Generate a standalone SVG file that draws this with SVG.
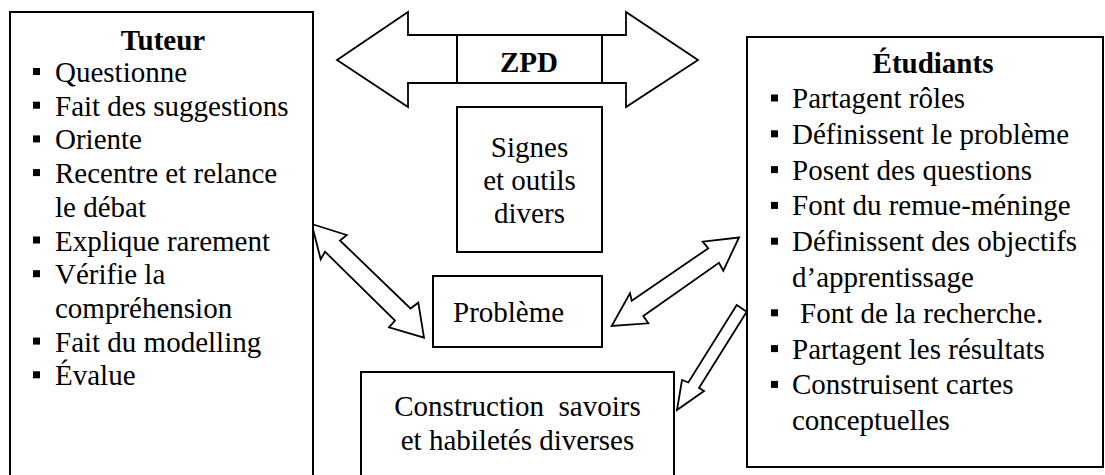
<svg xmlns="http://www.w3.org/2000/svg" width="1105" height="475" viewBox="0 0 1105 475">
<defs>
<style>
.box{fill:#fff;stroke:#000;stroke-width:2}
.arr{fill:#fff;stroke:#000;stroke-width:1.8;stroke-linejoin:miter}
</style>
</defs>
<rect width="1105" height="475" fill="#fff"/>
<g id="connectors">
<polygon class="arr" points="337,60 408,12 408,35 626,35 626,12 698,60 626,107 626,83 408,83 408,107"/>
<polygon class="arr" points="311.7,224 346.7,235 340,240.5 410.5,308.5 418.3,302.7 424,337.7 389,327.3 395,320.5 325,251.7 320.7,259.3"/>
<polygon class="arr" points="739,237.5 702.7,241.7 708.3,248.3 631.7,300.7 630,293.3 611.7,326 648.3,323.3 643.3,316 719,262.7 723.3,270.7"/>
<polygon class="arr" points="736.7,305 746.7,311.7 699,388 704,391 677,410 682,380 688.3,382.5"/>
</g>
<g id="zpd">
<line x1="457" y1="35" x2="457" y2="83" stroke="#000" stroke-width="2"/>
<line x1="602" y1="35" x2="602" y2="83" stroke="#000" stroke-width="2"/>
<text x="529" y="72" font-family="Liberation Serif" font-size="29" font-weight="bold" text-anchor="middle">ZPD</text>
</g>
<g id="tuteur" font-family="Times New Roman, serif" font-size="29">
<rect class="box" x="10" y="12" width="303" height="475"/>
<text x="163" y="50" font-weight="bold" text-anchor="middle">Tuteur</text>
<g fill="#000">
<rect x="33" y="68" width="7" height="7"/>
<rect x="33" y="101.7" width="7" height="7"/>
<rect x="33" y="135.4" width="7" height="7"/>
<rect x="33" y="169.1" width="7" height="7"/>
<rect x="33" y="236.5" width="7" height="7"/>
<rect x="33" y="270.2" width="7" height="7"/>
<rect x="33" y="337.6" width="7" height="7"/>
<rect x="33" y="371.3" width="7" height="7"/>
</g>
<text x="55" y="82">Questionne</text>
<text x="55" y="115.7">Fait des suggestions</text>
<text x="55" y="149.4">Oriente</text>
<text x="55" y="183.1">Recentre et relance</text>
<text x="55" y="216.8">le débat</text>
<text x="55" y="250.5">Explique rarement</text>
<text x="55" y="284.2">Vérifie la</text>
<text x="55" y="317.9">compréhension</text>
<text x="55" y="351.6">Fait du modelling</text>
<text x="55" y="385.3">Évalue</text>
</g>
<g id="signes" font-family="serif" font-size="29" text-anchor="middle">
<rect class="box" x="457" y="107" width="145" height="145"/>
<text x="529.5" y="157">Signes</text>
<text x="529.5" y="190">et outils</text>
<text x="529.5" y="223">divers</text>
</g>
<g id="probleme" font-family="Liberation Serif" font-size="29" font-weight="500">
<rect class="box" x="433" y="276" width="169" height="71"/>
<text x="453" y="322">Problème</text>
</g>
<g id="construction" font-family="Tinos, serif" font-size="29" text-anchor="middle">
<rect class="box" x="361" y="372" width="313" height="115"/>
<text x="517.5" y="416">Construction&#160; savoirs</text>
<text x="517.5" y="450">et habiletés diverses</text>
</g>
<g id="etudiants" font-family="Liberation Serif, serif" font-size="29">
<rect class="box" x="747" y="37" width="356" height="430"/>
<text x="933" y="73" font-weight="bold" text-anchor="middle">Étudiants</text>
<g fill="#000">
<rect x="771" y="94.5" width="7" height="7"/>
<rect x="771" y="130.3" width="7" height="7"/>
<rect x="771" y="166.1" width="7" height="7"/>
<rect x="771" y="201.9" width="7" height="7"/>
<rect x="771" y="237.7" width="7" height="7"/>
<rect x="771" y="309.3" width="7" height="7"/>
<rect x="771" y="345.1" width="7" height="7"/>
<rect x="771" y="380.9" width="7" height="7"/>
</g>
<text x="792" y="108">Partagent rôles</text>
<text x="792" y="143.8">Définissent le problème</text>
<text x="792" y="179.6">Posent des questions</text>
<text x="792" y="215.4">Font du remue-méninge</text>
<text x="792" y="251.2">Définissent des objectifs</text>
<text x="792" y="287">d’apprentissage</text>
<text x="800" y="322.8">Font de la recherche.</text>
<text x="792" y="358.6">Partagent les résultats</text>
<text x="792" y="394.4">Construisent cartes</text>
<text x="792" y="430.2">conceptuelles</text>
</g>
</svg>
